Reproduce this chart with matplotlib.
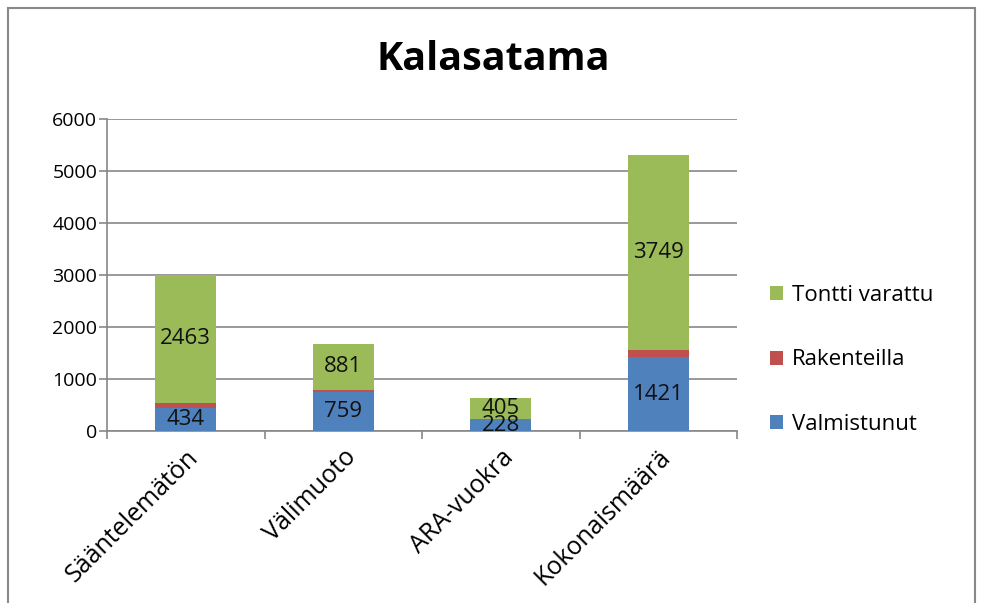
import matplotlib.pyplot as plt
import numpy as np
from matplotlib.patches import Rectangle

# Kalasatama - asunnot hallintamuodon mukaan
kategoriat = ["Sääntelemätön", "Välimuoto", "ARA-vuokra", "Kokonaismäärä"]
valmistunut = [434, 759, 228, 1421]
rakenteilla = [105, 33, 0, 138]
tontti_varattu = [2463, 881, 405, 3749]

plt.rcParams['font.family'] = ['Open Sans', 'DejaVu Sans']

fig = plt.figure(figsize=(9.84, 6.03), dpi=100)
ax = fig.add_axes([107/984, 1 - 431/603, 630/984, 312/603])

x = np.arange(len(kategoriat))
leveys = 0.39
v = np.array(valmistunut)
r = np.array(rakenteilla)
t = np.array(tontti_varattu)

b1 = ax.bar(x, v, leveys, color='#4F81BD', label='Valmistunut', zorder=3)
b2 = ax.bar(x, r, leveys, bottom=v, color='#C0504D', label='Rakenteilla', zorder=3)
b3 = ax.bar(x, t, leveys, bottom=v + r, color='#9BBB59', label='Tontti varattu', zorder=3)

# arvot palkkien keskelle
for i in range(len(x)):
    ax.text(x[i], v[i] / 2, str(valmistunut[i]), ha='center', va='center',
            fontsize=16, color='#111111', zorder=4)
    ax.text(x[i], v[i] + r[i] + t[i] / 2, str(tontti_varattu[i]), ha='center',
            va='center', fontsize=16, color='#111111', zorder=4)

ax.set_xlim(-0.5, len(x) - 0.5)
ax.set_ylim(0, 6000)
ax.set_yticks(range(0, 6001, 1000))
ax.tick_params(axis='y', labelsize=14, length=6, pad=1, color='#888888', width=1.2)
ax.set_xticks(x)
ax.set_xticklabels(kategoriat, rotation=45, ha='right', rotation_mode='anchor',
                   fontsize=18)
ax.tick_params(axis='x', length=0, pad=10)
# jakoviivat kategorioiden välille
ax.set_xticks(np.arange(-0.5, len(x)), minor=True)
ax.tick_params(axis='x', which='minor', length=6, color='#888888', width=1.2)

ax.grid(axis='y', color='#888888', linewidth=1.2, zorder=0)
for s in ['top', 'right']:
    ax.spines[s].set_visible(False)
ax.spines['left'].set_color('#888888')
ax.spines['bottom'].set_color('#888888')
ax.spines['left'].set_linewidth(1.2)
ax.spines['bottom'].set_linewidth(1.2)

fig.text(493/984, 1 - 60/603, "Kalasatama", ha='center', va='center',
         fontsize=28.5, fontweight='bold')

handles = [b3, b2, b1]
fig.legend(handles, [h.get_label() for h in handles], loc='center left',
           bbox_to_anchor=(750/984, 1 - 360/603), frameon=False, fontsize=16,
           handlelength=0.6, handleheight=0.6, handletextpad=0.4, labelspacing=1.95)

fig.patches.append(Rectangle((8/984, -0.02), 967/984, 1 - 8/603 + 0.02,
                             transform=fig.transFigure, fill=False,
                             edgecolor='#888888', linewidth=1.5))

fig.savefig('out.png', dpi=100)
